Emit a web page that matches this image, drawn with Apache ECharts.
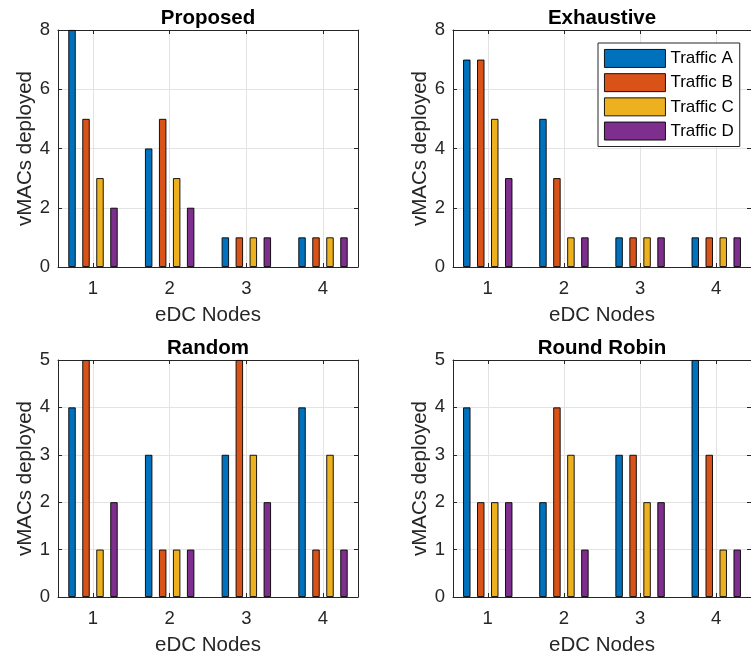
<!DOCTYPE html>
<html><head><meta charset="utf-8">
<script src="https://cdn.jsdelivr.net/npm/echarts@6/dist/echarts.min.js"></script>
<style>html,body{margin:0;padding:0;background:#fff}#c{width:751px;height:661px}</style>
</head><body><div id="c"></div><script>
// ---- data ----
const categories = [1, 2, 3, 4];
const seriesNames = ['Traffic A', 'Traffic B', 'Traffic C', 'Traffic D'];
const panelTitles = ['Proposed', 'Exhaustive', 'Random', 'Round Robin'];
const xAxisName = 'eDC Nodes';
const yAxisName = 'vMACs deployed';
// each row = one traffic series (A..D), values per eDC node 1..4
const proposed   = [[8, 4, 1, 1], [5, 5, 1, 1], [3, 3, 1, 1], [2, 2, 1, 1]];
const exhaustive = [[7, 5, 1, 1], [7, 3, 1, 1], [5, 1, 1, 1], [3, 1, 1, 1]];
const random     = [[4, 3, 3, 4], [5, 1, 5, 1], [1, 1, 3, 3], [2, 1, 2, 1]];
const roundRobin = [[4, 2, 3, 5], [2, 4, 3, 3], [2, 3, 2, 1], [2, 1, 2, 1]];
const yMaxTop = 8, yStepTop = 2;
const yMaxBottom = 5, yStepBottom = 1;

// ---- style / layout ----
const colors = ['#0072BD', '#D95319', '#EDB120', '#7E2F8E'];
const FONT = 'Liberation Sans, Arial, Helvetica, sans-serif';
const AX = '#262626';
const GRIDC = '#e3e3e3';
const TICKFS = 18.5, LABELFS = 20.5, LEGENDFS = 17;
const panels = [proposed, exhaustive, random, roundRobin];
const yMaxes = [yMaxTop, yMaxTop, yMaxBottom, yMaxBottom];
const ySteps = [yStepTop, yStepTop, yStepBottom, yStepBottom];
const pos = [{left: 58, top: 30}, {left: 453, top: 30}, {left: 58, top: 360}, {left: 453, top: 360}];
const W = 300, H = 237;
const XMIN = 0.5435, XMAX = 4.4565;

const grid = [], xAxis = [], yAxis = [], series = [];
panels.forEach((panel, i) => {
  grid.push({left: pos[i].left, top: pos[i].top, width: W, height: H, show: false});
  const common = {
    type: 'value', gridIndex: i, min: XMIN, max: XMAX, minInterval: 1, maxInterval: 1,
    axisLine: {show: true, onZero: false, lineStyle: {color: AX, width: 1}},
    axisTick: {show: true, inside: true, length: 4, lineStyle: {color: AX}}
  };
  xAxis.push(Object.assign({}, common, {
    position: 'bottom',
    axisLabel: {show: true, fontSize: TICKFS, color: AX, fontFamily: FONT, margin: 12,
      showMinLabel: false, showMaxLabel: false,
      formatter: v => (Math.abs(v - Math.round(v)) < 1e-6 ? String(Math.round(v)) : '')},
    splitLine: {show: true, lineStyle: {color: GRIDC, width: 1}},
    name: xAxisName, nameLocation: 'middle', nameGap: 38,
    nameTextStyle: {fontSize: LABELFS, color: AX, fontFamily: FONT}
  }));
  xAxis.push(Object.assign({}, common, {
    position: 'top',
    axisLabel: {show: false},
    splitLine: {show: false},
    name: panelTitles[i], nameLocation: 'middle', nameGap: 1.5,
    nameTextStyle: {fontSize: LABELFS, fontWeight: 'bold', color: '#000', fontFamily: FONT}
  }));
  const ycommon = {
    type: 'value', gridIndex: i, min: 0, max: yMaxes[i], interval: ySteps[i],
    axisLine: {show: true, onZero: false, lineStyle: {color: AX, width: 1}},
    axisTick: {show: true, inside: true, length: 4, lineStyle: {color: AX}}
  };
  yAxis.push(Object.assign({}, ycommon, {
    position: 'left',
    axisLabel: {show: true, fontSize: TICKFS, color: AX, fontFamily: FONT, margin: 8},
    splitLine: {show: true, lineStyle: {color: GRIDC, width: 1}},
    name: yAxisName, nameLocation: 'middle', nameGap: 22,
    nameTextStyle: {fontSize: LABELFS, color: AX, fontFamily: FONT}
  }));
  yAxis.push(Object.assign({}, ycommon, {
    position: 'right',
    axisLabel: {show: false},
    splitLine: {show: false}
  }));
  panel.forEach((vals, j) => {
    series.push({
      type: 'bar', name: seriesNames[j],
      xAxisIndex: 2 * i, yAxisIndex: 2 * i,
      data: categories.map((c, k) => [c, vals[k]]),
      barWidth: 7.4, barGap: '89%',
      itemStyle: {color: colors[j], borderColor: '#000', borderWidth: 0.9},
      emphasis: {disabled: true},
      animation: false
    });
  });
});

const chart = echarts.init(document.getElementById('c'));
chart.setOption({
  animation: false,
  color: colors,
  grid, xAxis, yAxis, series,
  legend: {
    show: true, orient: 'vertical', left: 598, top: 43,
    data: seriesNames,
    padding: [6, 6, 6, 6], itemGap: 5.3, itemWidth: 61, itemHeight: 18,
    icon: 'rect',
    borderColor: AX, borderWidth: 1, backgroundColor: '#fff',
    itemStyle: {borderColor: '#000', borderWidth: 0.9},
    textStyle: {fontSize: LEGENDFS, color: '#000', fontFamily: FONT}
  }
});
</script></body></html>
